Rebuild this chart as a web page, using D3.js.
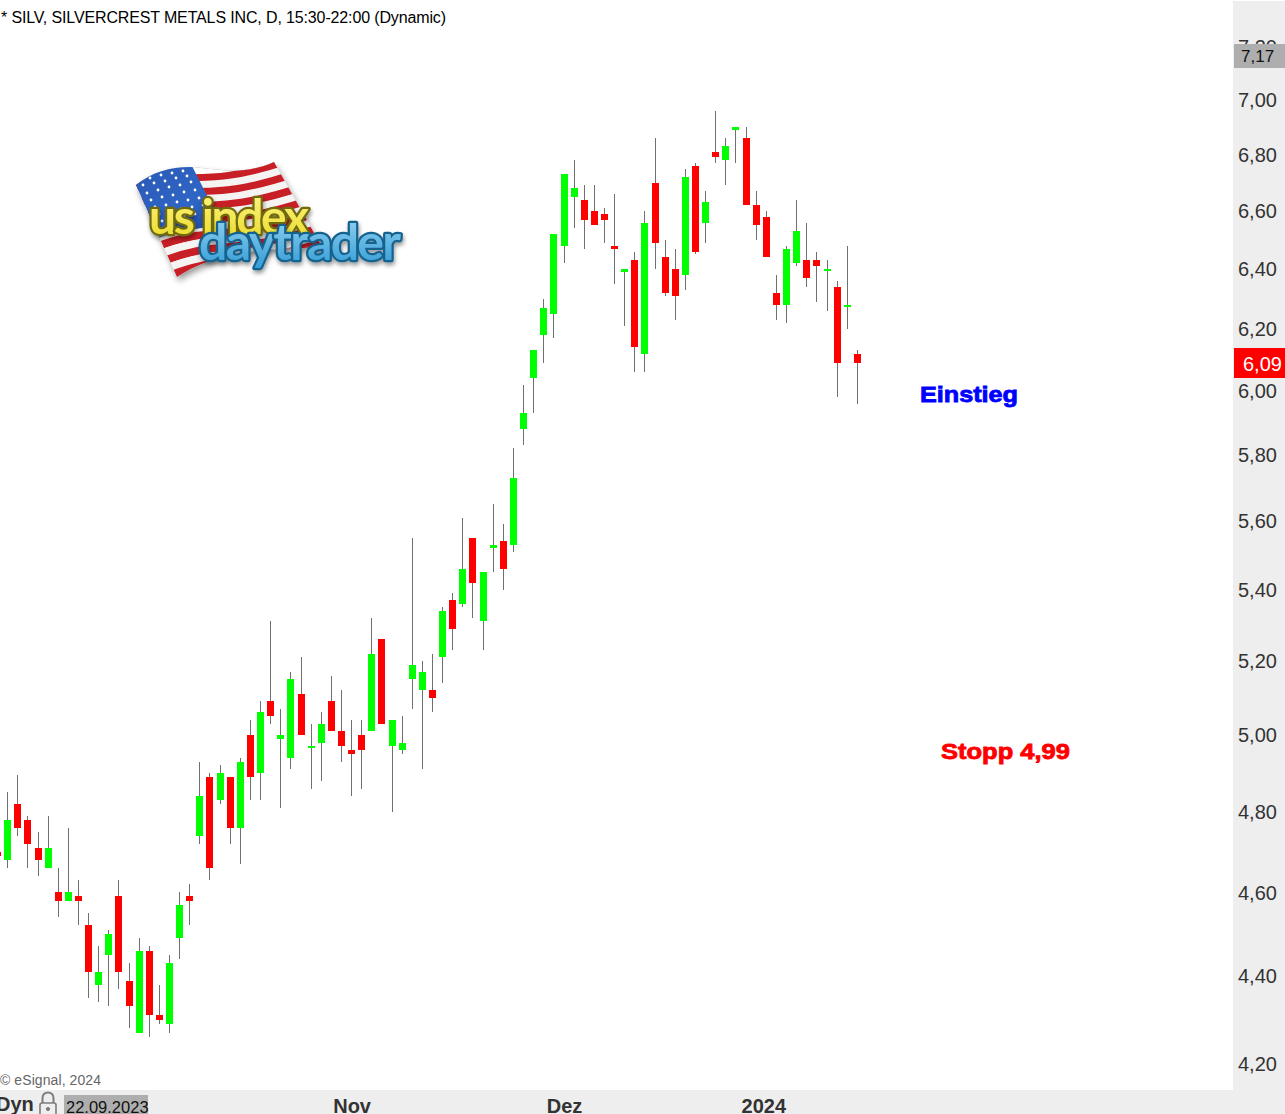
<!DOCTYPE html>
<html lang="de">
<head>
<meta charset="utf-8">
<title>SILV</title>
<script src="https://cdn.jsdelivr.net/npm/d3@7/dist/d3.min.js"></script>
<style>
html,body{margin:0;padding:0;background:#fff;overflow:hidden}
svg{display:block;font-family:"Liberation Sans",Arial,sans-serif}
</style>
</head>
<body>
<div id="chart"></div>
<script>
const dates = [
"2023-09-13","2023-09-14","2023-09-15","2023-09-18","2023-09-19","2023-09-20","2023-09-21","2023-09-22","2023-09-25","2023-09-26","2023-09-27","2023-09-28","2023-09-29",
"2023-10-02","2023-10-03","2023-10-04","2023-10-05","2023-10-06","2023-10-09","2023-10-10","2023-10-11","2023-10-12","2023-10-13","2023-10-16","2023-10-17","2023-10-18","2023-10-19","2023-10-20","2023-10-23","2023-10-24","2023-10-25","2023-10-26","2023-10-27","2023-10-30","2023-10-31",
"2023-11-01","2023-11-02","2023-11-03","2023-11-06","2023-11-07","2023-11-08","2023-11-09","2023-11-10","2023-11-13","2023-11-14","2023-11-15","2023-11-16","2023-11-17","2023-11-20","2023-11-21","2023-11-22","2023-11-24","2023-11-27","2023-11-28","2023-11-29","2023-11-30",
"2023-12-01","2023-12-04","2023-12-05","2023-12-06","2023-12-07","2023-12-08","2023-12-11","2023-12-12","2023-12-13","2023-12-14","2023-12-15","2023-12-18","2023-12-19","2023-12-20","2023-12-21","2023-12-22","2023-12-26","2023-12-27","2023-12-28","2023-12-29",
"2024-01-02","2024-01-03","2024-01-04","2024-01-05","2024-01-08","2024-01-09","2024-01-10","2024-01-11","2024-01-12","2024-01-16"];
const opens = [4.70,4.68,4.82,4.78,4.71,4.66,4.60,4.58,4.59,4.52,4.38,4.45,4.59,4.39,4.27,4.46,4.31,4.29,4.49,4.59,4.74,4.89,4.83,4.89,4.76,5.00,4.90,5.09,4.99,4.94,5.11,4.97,4.98,5.09,5.01,4.96,5.00,5.01,5.26,4.97,4.96,5.15,5.12,5.12,5.21,5.37,5.36,5.55,5.31,5.52,5.54,5.53,5.88,6.04,6.18,6.25,6.48,6.65,6.64,6.60,6.59,6.48,6.39,6.43,6.12,6.70,6.44,6.40,6.38,6.76,6.56,6.81,6.78,6.89,6.86,6.62,6.58,6.32,6.28,6.42,6.43,6.43,6.40,6.34,6.28,6.12];
const highs = [4.71,4.85,4.895,4.79,4.75,4.79,4.66,4.76,4.63,4.55,4.47,4.51,4.63,4.43,4.49,4.47,4.38,4.45,4.60,4.62,4.93,4.90,4.92,4.89,4.94,5.04,5.09,5.31,5.07,5.17,5.21,5.03,5.06,5.16,5.12,5.04,5.04,5.32,5.26,5.04,5.05,5.55,5.20,5.22,5.35,5.39,5.61,5.55,5.45,5.65,5.59,5.82,6.02,6.13,6.30,6.52,6.73,6.78,6.69,6.69,6.61,6.66,6.40,6.46,6.60,6.86,6.50,6.47,6.75,6.77,6.67,6.96,6.86,6.90,6.90,6.67,6.60,6.38,6.48,6.64,6.56,6.46,6.43,6.36,6.48,6.13];
const lows = [4.68,4.66,4.74,4.66,4.64,4.66,4.54,4.58,4.52,4.35,4.34,4.33,4.37,4.28,4.27,4.26,4.29,4.27,4.44,4.52,4.72,4.63,4.82,4.72,4.67,4.83,4.83,5.03,4.81,4.91,5.00,4.86,4.88,5.01,4.93,4.84,4.86,5.01,5.03,4.80,4.95,5.07,4.91,5.06,5.14,5.23,5.35,5.32,5.23,5.45,5.40,5.51,5.83,5.93,6.09,6.17,6.42,6.54,6.47,6.55,6.49,6.35,6.21,6.06,6.06,6.40,6.31,6.23,6.33,6.45,6.49,6.77,6.69,6.77,6.62,6.50,6.44,6.23,6.22,6.41,6.34,6.29,6.26,5.98,6.20,5.96];
const closes = [4.69,4.78,4.76,4.72,4.68,4.71,4.58,4.60,4.58,4.41,4.41,4.50,4.41,4.33,4.46,4.31,4.30,4.43,4.57,4.58,4.84,4.66,4.90,4.76,4.93,4.89,5.06,5.05,5.00,5.15,5.00,4.97,5.03,5.01,4.97,4.95,4.96,5.22,5.03,5.04,4.98,5.19,5.17,5.10,5.34,5.29,5.46,5.42,5.45,5.53,5.46,5.73,5.93,6.13,6.27,6.52,6.73,6.68,6.57,6.55,6.57,6.47,6.40,6.14,6.56,6.49,6.32,6.31,6.72,6.46,6.63,6.79,6.83,6.90,6.62,6.55,6.44,6.28,6.47,6.53,6.37,6.41,6.40,6.09,6.28,6.09];
const priceTicks = [4.2,4.4,4.6,4.8,5.0,5.2,5.4,5.6,5.8,6.0,6.2,6.4,6.6,6.8,7.0,7.2];
const monthTicks = ["2023-11-01","2023-12-01","2024-01-02"];
const monthLabels = ["Nov","Dez","2024"];
const upColor = "#00ff00", downColor = "#ff0000", wickColor = "#707070", panelColor = "#eeeeee", boxGray = "#aeaeae";
const lastClose = 6.09, crossPrice = 7.17;

const W = 1285, H = 1114, panelX = 1233, barY = 1090;
const fmt = d3.format(".2f");
const comma = v => fmt(v).replace(".", ",");
const svg = d3.select("#chart").append("svg").attr("width", W).attr("height", H);

const x = d3.scalePoint().domain(dates).range([-2.42, 857.355]);
const y = d3.scaleLog().domain([4.2, 7]).range([1064, 100]);

svg.append("rect").attr("width", W).attr("height", H).attr("fill", "#fff");

/* logo */
const defs = svg.append("defs");
const shadow = defs.append("filter").attr("id", "sh").attr("x", "-20%").attr("y", "-20%").attr("width", "140%").attr("height", "150%");
shadow.append("feDropShadow").attr("dx", 2).attr("dy", 4).attr("stdDeviation", 3).attr("flood-color", "#000").attr("flood-opacity", .4);
const blur = defs.append("filter").attr("id", "sh2").attr("x", "-20%").attr("y", "-30%").attr("width", "140%").attr("height", "170%");
blur.append("feDropShadow").attr("dx", 1).attr("dy", 3).attr("stdDeviation", 2).attr("flood-color", "#000").attr("flood-opacity", .4);
const gY = defs.append("linearGradient").attr("id", "gy").attr("x1", 0).attr("y1", 0).attr("x2", 0).attr("y2", 1);
gY.append("stop").attr("offset", "0%").attr("stop-color", "#fff78e");
gY.append("stop").attr("offset", "100%").attr("stop-color", "#e9d924");
const gB = defs.append("linearGradient").attr("id", "gb").attr("x1", 0).attr("y1", 0).attr("x2", 0).attr("y2", 1);
gB.append("stop").attr("offset", "0%").attr("stop-color", "#9ad6f2");
gB.append("stop").attr("offset", "100%").attr("stop-color", "#2f9ad4");
const gC = defs.append("linearGradient").attr("id", "gc").attr("x1", 0).attr("y1", 0).attr("x2", 1).attr("y2", 1);
gC.append("stop").attr("offset", "0%").attr("stop-color", "#2a58b4");
gC.append("stop").attr("offset", "60%").attr("stop-color", "#2f66c6");
gC.append("stop").attr("offset", "100%").attr("stop-color", "#1b3f94");
const flagOutline = "M136,185 C152,172 170,167 190,167 C215,168 240,177 274,162 L322,247 C285,250 225,245 177,277 Z";
defs.append("clipPath").attr("id", "flagClip").append("path").attr("d", flagOutline);
const logo = svg.append("g").attr("class", "logo");
logo.append("path").attr("d", flagOutline).attr("fill", "#bbb").attr("filter", "url(#sh)");
const flagG = logo.append("g").attr("clip-path", "url(#flagClip)");
flagG.append("path").attr("d", flagOutline).attr("fill", "#fff");
const lerp = (a, b, t) => [a[0] + (b[0] - a[0]) * t, a[1] + (b[1] - a[1]) * t];
d3.range(13).forEach(i => {
  const t = (i + .5) / 13;
  const p0 = lerp([136, 183], [177, 277], t), p3 = lerp([274, 162], [322, 247], t);
  flagG.append("path")
    .attr("d", `M${p0[0]-8},${p0[1]+3} C${p0[0]+50},${p0[1]-20} ${p3[0]-80},${p3[1]+26} ${p3[0]+8},${p3[1]-3}`)
    .attr("fill", "none").attr("stroke", i % 2 ? "#f6f4f2" : "#c81e26").attr("stroke-width", 8);
});
flagG.append("path").attr("d", "M130,180 C152,168 170,166 192,166 L222,225 C200,228 175,232 158,238 Z").attr("fill", "url(#gc)");
[[150,178],[161,175],[172,173],[183,171],
 [143,185],[154,183],[165,181],[176,178],[187,176],
 [147,193],[158,190],[169,187],[180,185],[191,182],
 [151,200],[162,197],[173,195],[184,192],[195,190],
 [155,207],[166,205],[177,202],[188,200],[199,198],
 [159,214],[170,212],[181,209],[192,207],[203,205],
 [162,221],[173,219],[184,216],[195,214],[206,212]].forEach(s => {
  flagG.append("circle").attr("cx", s[0]).attr("cy", s[1]).attr("r", 1.4).attr("fill", "#fff");
});
logo.append("text").text("us index").attr("x", 149).attr("y", 234)
  .attr("textLength", 160).attr("lengthAdjust", "spacing")
  .style("font-family", "Lato,sans-serif").style("font-size", "48px").style("font-weight", 700)
  .attr("fill", "url(#gy)").attr("stroke", "#6f6a10").attr("stroke-width", 4.5).attr("stroke-linejoin", "round").attr("paint-order", "stroke").attr("filter", "url(#sh2)");
logo.append("text").text("daytrader").attr("x", 199).attr("y", 260)
  .attr("textLength", 202).attr("lengthAdjust", "spacing")
  .style("font-family", "Lato,sans-serif").style("font-size", "50px").style("font-weight", 700)
  .attr("fill", "url(#gb)").attr("stroke", "#14628f").attr("stroke-width", 4.5).attr("stroke-linejoin", "round").attr("paint-order", "stroke").attr("filter", "url(#sh2)");

/* candles */
const candles = svg.append("g").attr("class", "candles").selectAll("g")
  .data(dates.map((d, i) => ({d, o: opens[i], h: highs[i], l: lows[i], c: closes[i]})))
  .join("g");
candles.append("rect").attr("class", "wick")
  .attr("x", d => Math.floor(x(d.d))).attr("width", 1)
  .attr("y", d => Math.round(y(d.h)))
  .attr("height", d => Math.round(y(d.l)) - Math.round(y(d.h)))
  .attr("fill", wickColor);
candles.append("rect").attr("class", "body")
  .attr("x", d => Math.floor(x(d.d)) - 3).attr("width", 7)
  .attr("y", d => Math.round(y(Math.max(d.o, d.c))))
  .attr("height", d => Math.max(2, Math.round(y(Math.min(d.o, d.c))) - Math.round(y(Math.max(d.o, d.c)))))
  .attr("fill", d => d.c >= d.o ? upColor : downColor);

/* annotations */
svg.append("text").text("Einstieg").attr("x", 920).attr("y", 402)
  .attr("textLength", 98).attr("lengthAdjust", "spacingAndGlyphs")
  .attr("fill", "#0000ff").attr("stroke", "#0000ff").attr("stroke-width", .8)
  .style("font-size", "22px").style("font-weight", 700);
svg.append("text").text("Stopp 4,99").attr("x", 941).attr("y", 759)
  .attr("textLength", 129).attr("lengthAdjust", "spacingAndGlyphs")
  .attr("fill", "#ff0000").attr("stroke", "#ff0000").attr("stroke-width", .8)
  .style("font-size", "22px").style("font-weight", 700);

svg.append("text").text("* SILV, SILVERCREST METALS INC, D, 15:30-22:00 (Dynamic)")
  .attr("x", 1).attr("y", 23).attr("textLength", 445).attr("fill", "#000").style("font-size", "16px");
svg.append("text").text("\u00a9 eSignal, 2024").attr("x", 0).attr("y", 1085)
  .attr("textLength", 101).attr("fill", "#666").style("font-size", "14px");

/* panels */
svg.append("rect").attr("x", panelX).attr("y", 1).attr("width", W - panelX).attr("height", H).attr("fill", panelColor);
svg.append("rect").attr("x", 0).attr("y", barY).attr("width", W).attr("height", H - barY).attr("fill", panelColor);

/* price axis */
const yAxis = svg.append("g").attr("transform", `translate(${panelX},0.3)`)
  .call(d3.axisRight(y).tickValues(priceTicks).tickSize(0).tickPadding(5).tickFormat(comma));
yAxis.select(".domain").remove();
yAxis.selectAll("text").attr("fill", "#333").style("font-size", "20px").style("font-family", "'Liberation Sans',Arial,sans-serif");

const crossY = y(crossPrice) + 1.3;
svg.append("rect").attr("x", 1234).attr("y", crossY - 12).attr("width", 51).attr("height", 24).attr("fill", boxGray);
svg.append("text").text(comma(crossPrice)).attr("x", 1241).attr("y", crossY + 6)
  .attr("fill", "#111").style("font-size", "17px");
svg.append("rect").attr("x", 1234).attr("y", Math.round(y(lastClose)) - 15).attr("width", 51).attr("height", 30).attr("fill", downColor);
svg.append("text").text(comma(lastClose)).attr("x", 1243).attr("y", Math.round(y(lastClose)) + 7.5)
  .attr("fill", "#fff").style("font-size", "20px");

/* time axis */
const xAxis = svg.append("g").attr("transform", `translate(0,${barY})`)
  .call(d3.axisBottom(x).tickValues(monthTicks).tickSize(0).tickPadding(9)
    .tickFormat(d => monthLabels[monthTicks.indexOf(d)]));
xAxis.select(".domain").remove();
xAxis.selectAll("text").attr("fill", "#333").attr("dx", (d, i) => i === 2 ? -3 : 0)
  .style("font-size", "20px").style("font-weight", 700).style("font-family", "'Liberation Sans',Arial,sans-serif");

svg.append("text").text("Dyn").attr("x", -4).attr("y", 1111).attr("fill", "#333")
  .style("font-size", "20px").style("font-weight", 700);
const lock = svg.append("g").attr("fill", "none").attr("stroke", "#7c7c7c");
lock.append("path").attr("d", "M42.5,1103 V1098 C42.5,1090.5 53.5,1090.5 53.5,1098 V1103").attr("stroke-width", 2);
lock.append("rect").attr("x", 40).attr("y", 1103).attr("width", 16).attr("height", 14).attr("rx", 2).attr("stroke-width", 1.6);
lock.append("circle").attr("cx", 48).attr("cy", 1109).attr("r", 1.6).attr("fill", "#7c7c7c");
svg.append("rect").attr("x", 64).attr("y", 1095).attr("width", 84).attr("height", 19).attr("fill", boxGray);
svg.append("text").text("22.09.2023").attr("x", 66).attr("y", 1113).attr("fill", "#111").style("font-size", "16.5px");
</script>
</body>
</html>
